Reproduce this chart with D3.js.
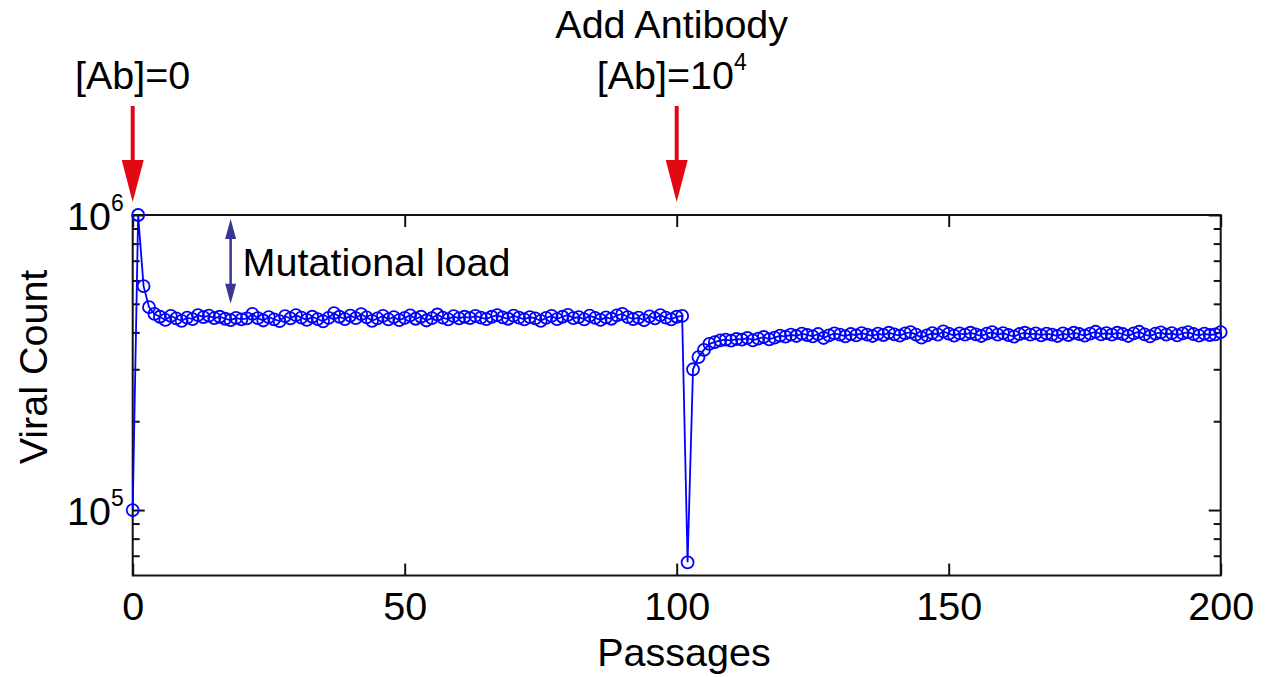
<!DOCTYPE html>
<html>
<head>
<meta charset="utf-8">
<script src="https://cdn.jsdelivr.net/npm/d3@7"></script>
<style>
  body { margin: 0; background: #fff; }
  svg text { font-family: "Liberation Sans", Arial, sans-serif; fill: #000; }
</style>
</head>
<body>
<div id="container"></div>
<script>
// passages 0..200, one value each
const viralCount = [
  100000, 1000000, 574000, 487000, 462000, 452000, 441000, 455000, 446000, 438000,
  449000, 444000, 458000, 451000, 456000, 447000, 452000, 445000, 440000, 448000,
  443000, 446000, 462000, 447000, 439000, 451000, 443000, 437000, 454000, 446000,
  458000, 449000, 441000, 452000, 444000, 436000, 448000, 465000, 452000, 444000,
  456000, 447000, 461000, 450000, 438000, 446000, 455000, 443000, 451000, 440000,
  448000, 457000, 445000, 452000, 439000, 447000, 460000, 449000, 443000, 454000,
  446000, 452000, 447000, 455000, 449000, 444000, 452000, 458000, 450000, 445000,
  456000, 449000, 443000, 451000, 446000, 438000, 448000, 455000, 444000, 452000,
  459000, 447000, 451000, 443000, 456000, 448000, 441000, 450000, 445000, 457000,
  462000, 451000, 444000, 449000, 440000, 453000, 446000, 458000, 449000, 443000,
  452000, 455000, 66500, 300000, 330000, 349000, 366000, 371000, 376000, 378000,
  375000, 380000, 378000, 383000, 376000, 381000, 386000, 379000, 384000, 390000,
  387000, 393000, 389000, 396000, 392000, 388000, 395000, 383000, 391000, 397000,
  393000, 388000, 395000, 391000, 398000, 393000, 389000, 396000, 392000, 399000,
  394000, 390000, 397000, 401000, 393000, 384000, 391000, 398000, 393000, 403000,
  396000, 390000, 397000, 393000, 399000, 394000, 389000, 396000, 401000, 393000,
  398000, 392000, 387000, 395000, 399000, 393000, 397000, 391000, 396000, 393000,
  389000, 397000, 392000, 399000, 395000, 390000, 396000, 402000, 394000, 398000,
  393000, 399000, 395000, 389000, 397000, 402000, 394000, 388000, 396000, 400000,
  393000, 398000, 391000, 397000, 401000, 395000, 390000, 396000, 392000, 394000,
  401000
];
const passages = viralCount.map((v, i) => i);

const xTicks = [0, 50, 100, 150, 200];
const yMajor = [1e5, 1e6];
const yMajorExp = ["5", "6"];
const yMinor = [7e4, 8e4, 9e4, 2e5, 3e5, 4e5, 5e5, 6e5, 7e5, 8e5, 9e5];
const yDomain = [6e4, 1e6];

// annotation arrows: passage where they point and their label lines
const markers = [
  { at: 0, lines: [["[Ab]=0", ""]] },
  { at: 100, lines: [["Add Antibody", ""], ["[Ab]=10", "4"]] }
];
const loadAt = 18;
const loadRange = [9.7e5, 5.0e5];

const w = 1270;
const h = 677;
const margin = { left: 132.7, right: 49.3, top: 215, bottom: 101.5 };
const fontBig = "39.5px";
const fontSup = "23px";

const svg = d3.select("#container")
  .append("svg")
  .attr("width", w)
  .attr("height", h);

//THE SCALES
const x = d3.scaleLinear()
  .domain([0, 200])
  .range([margin.left, w - margin.right]);

const y = d3.scaleLog()
  .domain(yDomain)
  .range([h - margin.bottom, margin.top]);

const axisColor = "#111";

//THE AXES (ticks point inward)
const bottomAxis = svg.append("g")
  .attr("transform", `translate(0, ${y.range()[0]})`)
  .call(d3.axisBottom(x).tickValues(xTicks).tickSizeInner(-12).tickSizeOuter(0).tickPadding(16));
bottomAxis.selectAll("text").style("font-size", fontBig);

svg.append("g")
  .attr("transform", `translate(0, ${y.range()[1]})`)
  .call(d3.axisTop(x).tickValues(xTicks).tickSizeInner(-12).tickSizeOuter(0).tickFormat(""));

[[d3.axisLeft, x.range()[0]], [d3.axisRight, x.range()[1]]].forEach(([axisFn, xPos]) => {
  svg.append("g")
    .attr("transform", `translate(${xPos}, 0)`)
    .call(axisFn(y).tickValues(yMajor).tickSizeInner(-12).tickSizeOuter(0).tickFormat(""));
  svg.append("g")
    .attr("transform", `translate(${xPos}, 0)`)
    .call(axisFn(y).tickValues(yMinor).tickSizeInner(-7).tickSizeOuter(0).tickFormat(""));
});

svg.selectAll(".domain").remove();
svg.selectAll(".tick line").attr("stroke", axisColor).attr("stroke-width", 2);

// frame
svg.append("rect")
  .attr("x", x.range()[0])
  .attr("y", y.range()[1])
  .attr("width", x.range()[1] - x.range()[0])
  .attr("height", y.range()[0] - y.range()[1])
  .attr("fill", "none")
  .attr("stroke", axisColor)
  .attr("stroke-width", 2);

// y labels as 10 with superscript exponent
const yLabels = svg.append("g")
  .selectAll("text")
  .data(yMajor)
  .enter()
  .append("text")
  .attr("x", x.range()[0] - 9)
  .attr("y", d => y(d) + 15)
  .attr("text-anchor", "end")
  .style("font-size", fontBig);
yLabels.append("tspan").text("10");
yLabels.append("tspan")
  .attr("dy", -19)
  .style("font-size", fontSup)
  .text((d, i) => yMajorExp[i]);

//AXIS TITLES
svg.append("text")
  .attr("x", 684)
  .attr("y", 666)
  .attr("text-anchor", "middle")
  .style("font-size", fontBig)
  .text("Passages");

svg.append("text")
  .attr("transform", `translate(47, ${367}) rotate(-90)`)
  .attr("text-anchor", "middle")
  .style("font-size", fontBig)
  .text("Viral Count");

//THE DATA
const line = d3.line()
  .x((d, i) => x(passages[i]))
  .y(d => y(d));

svg.append("path")
  .datum(viralCount)
  .attr("d", line)
  .attr("fill", "none")
  .attr("stroke", "#0000ff")
  .attr("stroke-width", 1.8);

svg.append("g")
  .selectAll("circle")
  .data(viralCount)
  .enter()
  .append("circle")
  .attr("cx", (d, i) => x(passages[i]))
  .attr("cy", d => y(d))
  .attr("r", 6)
  .attr("fill", "none")
  .attr("stroke", "#0000ff")
  .attr("stroke-width", 1.8);

//THE ANNOTATIONS
const red = "#e30613";
markers.forEach(m => {
  const cx = x(m.at);
  const tip = y.range()[1] - 13;
  svg.append("line")
    .attr("x1", cx).attr("x2", cx)
    .attr("y1", 106).attr("y2", tip - 36)
    .attr("stroke", red)
    .attr("stroke-width", 4);
  svg.append("path")
    .attr("d", `M${cx - 11},${tip - 42}L${cx + 11},${tip - 42}L${cx},${tip}Z`)
    .attr("fill", red);

  m.lines.forEach((ln, i) => {
    const t = svg.append("text")
      .attr("x", cx - (m.lines.length > 1 ? 5 : 0))
      .attr("y", 89 - (m.lines.length - 1 - i) * 51)
      .attr("text-anchor", "middle")
      .style("font-size", fontBig);
    t.append("tspan").text(ln[0]);
    if (ln[1]) {
      t.append("tspan").attr("dy", -19).style("font-size", fontSup).text(ln[1]);
    }
  });
});

// mutational load double arrow
const navy = "#3a3590";
const lx = x(loadAt);
const loadTop = y(loadRange[0]);
const loadBot = y(loadRange[1]);
svg.append("line")
  .attr("x1", lx).attr("x2", lx)
  .attr("y1", loadTop + 12).attr("y2", loadBot - 12)
  .attr("stroke", navy)
  .attr("stroke-width", 2.5);
svg.append("path")
  .attr("d", `M${lx},${loadTop}L${lx - 5.5},${loadTop + 20}L${lx + 5.5},${loadTop + 20}Z`)
  .attr("fill", navy);
svg.append("path")
  .attr("d", `M${lx},${loadBot}L${lx - 5.5},${loadBot - 20}L${lx + 5.5},${loadBot - 20}Z`)
  .attr("fill", navy);

svg.append("text")
  .attr("x", lx + 12)
  .attr("y", 276)
  .style("font-size", fontBig)
  .text("Mutational load");
</script>
</body>
</html>
